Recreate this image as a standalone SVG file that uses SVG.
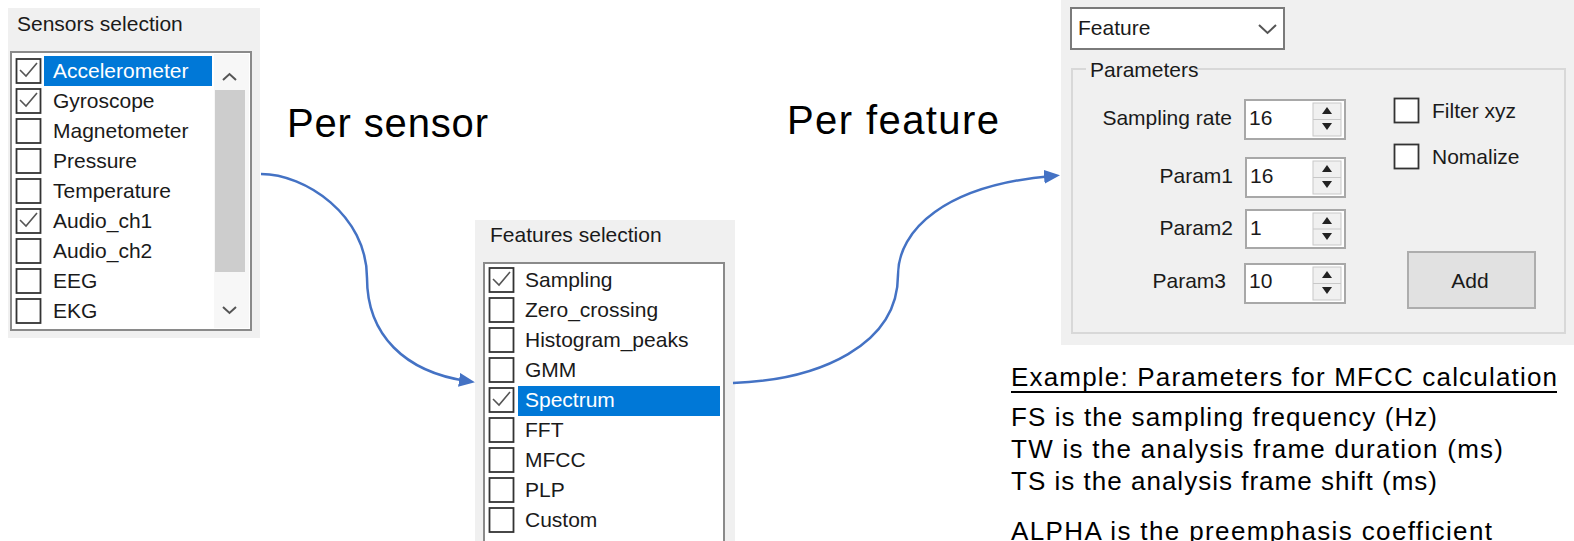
<svg xmlns="http://www.w3.org/2000/svg" width="1574" height="541" viewBox="0 0 1574 541">
<defs>
<style>
.ui{font-family:"Liberation Sans",Arial,sans-serif;font-size:21px;fill:#1a1a1a}
.sel{fill:#ffffff}
.big{font-family:"Liberation Sans",Arial,sans-serif;font-size:40px;fill:#000}
.note{font-family:"Liberation Sans",Arial,sans-serif;font-size:26px;fill:#000}
.panel{fill:#f0f0f0}
.list{fill:#fff;stroke:#8a8a8a;stroke-width:2}
.cb{fill:#fff;stroke:#333;stroke-width:1.8}
.chk{fill:none;stroke:#555;stroke-width:1.6}
.hl{fill:#0078d7}
.spin{fill:#fff;stroke:#a8a8a8;stroke-width:2}
.spbtn{fill:#f0f0f0;stroke:#c8c8c8;stroke-width:1}
.tri{fill:#222}
.conn{fill:none;stroke:#4472c4;stroke-width:2.5}
</style>
<marker id="ah" viewBox="0 0 16 14" refX="8" refY="7" markerWidth="16" markerHeight="14" orient="auto" markerUnits="userSpaceOnUse">
<path d="M0,0 L16,7 L0,14 z" fill="#4472c4"/>
</marker>
</defs>
<rect width="1574" height="541" fill="#fff"/>

<g id="sensors-panel">
<rect class="panel" x="8" y="8" width="252" height="330"/>
<text class="ui" x="17" y="31">Sensors selection</text>
<rect class="list" x="11" y="52" width="240" height="278"/>
<rect x="214" y="54" width="35" height="274" fill="#f7f7f7"/>
<rect x="215" y="90" width="30" height="182" fill="#cdcdcd"/>
<path d="M223,80 L229.5,74 L236,80" fill="none" stroke="#555" stroke-width="2"/>
<path d="M223,307 L229.5,313 L236,307" fill="none" stroke="#555" stroke-width="2"/>
<rect class="hl" x="44" y="56" width="168" height="30"/>
<rect class="cb" x="16.5" y="59" width="24" height="24"/>
<rect class="cb" x="16.5" y="89" width="24" height="24"/>
<rect class="cb" x="16.5" y="119" width="24" height="24"/>
<rect class="cb" x="16.5" y="149" width="24" height="24"/>
<rect class="cb" x="16.5" y="179" width="24" height="24"/>
<rect class="cb" x="16.5" y="209" width="24" height="24"/>
<rect class="cb" x="16.5" y="239" width="24" height="24"/>
<rect class="cb" x="16.5" y="269" width="24" height="24"/>
<rect class="cb" x="16.5" y="299" width="24" height="24"/>
<path class="chk" d="M20,70 L26,76 L37,63"/>
<path class="chk" d="M20,100 L26,106 L37,93"/>
<path class="chk" d="M20,220 L26,226 L37,213"/>
<text class="ui sel" x="53" y="78">Accelerometer</text>
<text class="ui" x="53" y="108">Gyroscope</text>
<text class="ui" x="53" y="138">Magnetometer</text>
<text class="ui" x="53" y="168">Pressure</text>
<text class="ui" x="53" y="198">Temperature</text>
<text class="ui" x="53" y="228">Audio_ch1</text>
<text class="ui" x="53" y="258">Audio_ch2</text>
<text class="ui" x="53" y="288">EEG</text>
<text class="ui" x="53" y="318">EKG</text>
</g>

<g id="features-panel">
<rect class="panel" x="475" y="220" width="260" height="321"/>
<text class="ui" x="490" y="242">Features selection</text>
<rect class="list" x="484" y="263" width="240" height="290"/>
<rect class="hl" x="518" y="386" width="202" height="30"/>
<rect class="cb" x="489.5" y="268" width="24" height="24"/>
<rect class="cb" x="489.5" y="298" width="24" height="24"/>
<rect class="cb" x="489.5" y="328" width="24" height="24"/>
<rect class="cb" x="489.5" y="358" width="24" height="24"/>
<rect class="cb" x="489.5" y="388" width="24" height="24"/>
<rect class="cb" x="489.5" y="418" width="24" height="24"/>
<rect class="cb" x="489.5" y="448" width="24" height="24"/>
<rect class="cb" x="489.5" y="478" width="24" height="24"/>
<rect class="cb" x="489.5" y="508" width="24" height="24"/>
<path class="chk" d="M493,279 L499,285 L510,272"/>
<path class="chk" d="M493,399 L499,405 L510,392"/>
<text class="ui" x="525" y="287">Sampling</text>
<text class="ui" x="525" y="317">Zero_crossing</text>
<text class="ui" x="525" y="347">Histogram_peaks</text>
<text class="ui" x="525" y="377">GMM</text>
<text class="ui sel" x="525" y="407">Spectrum</text>
<text class="ui" x="525" y="437">FFT</text>
<text class="ui" x="525" y="467">MFCC</text>
<text class="ui" x="525" y="497">PLP</text>
<text class="ui" x="525" y="527">Custom</text>
</g>

<g id="params-panel">
<rect class="panel" x="1061" y="0" width="513" height="345"/>
<rect x="1071" y="8" width="213" height="41" fill="#fff" stroke="#7a7a7a" stroke-width="2"/>
<text class="ui" x="1078" y="35">Feature</text>
<path d="M1259,25 L1267.5,33 L1276,25" fill="none" stroke="#555" stroke-width="2"/>
<rect x="1072" y="69" width="493" height="264" fill="none" stroke="#d8d8d8" stroke-width="2"/>
<rect x="1086" y="60" width="108" height="20" fill="#f0f0f0"/>
<text class="ui" x="1090" y="77">Parameters</text>

<text class="ui" x="1232" y="125" text-anchor="end">Sampling rate</text>
<rect class="spin" x="1245" y="100" width="100" height="39"/>
<rect class="spbtn" x="1313" y="103" width="28" height="33"/>
<line x1="1313" y1="119.5" x2="1341" y2="119.5" stroke="#c8c8c8"/>
<path class="tri" d="M1322,114 L1332,114 L1327,107 z"/>
<path class="tri" d="M1322,123 L1332,123 L1327,130 z"/>
<text class="ui" x="1249" y="125">16</text>

<text class="ui" x="1233" y="183" text-anchor="end">Param1</text>
<rect class="spin" x="1246" y="158" width="99" height="39"/>
<rect class="spbtn" x="1313" y="161" width="28" height="33"/>
<line x1="1313" y1="177.5" x2="1341" y2="177.5" stroke="#c8c8c8"/>
<path class="tri" d="M1322,172 L1332,172 L1327,165 z"/>
<path class="tri" d="M1322,181 L1332,181 L1327,188 z"/>
<text class="ui" x="1250" y="183">16</text>

<text class="ui" x="1233" y="235" text-anchor="end">Param2</text>
<rect class="spin" x="1246" y="210" width="99" height="38"/>
<rect class="spbtn" x="1313" y="213" width="28" height="32"/>
<line x1="1313" y1="229" x2="1341" y2="229" stroke="#c8c8c8"/>
<path class="tri" d="M1322,224 L1332,224 L1327,217 z"/>
<path class="tri" d="M1322,233 L1332,233 L1327,240 z"/>
<text class="ui" x="1250" y="235">1</text>

<text class="ui" x="1226" y="288" text-anchor="end">Param3</text>
<rect class="spin" x="1245" y="264" width="100" height="39"/>
<rect class="spbtn" x="1313" y="267" width="28" height="33"/>
<line x1="1313" y1="283.5" x2="1341" y2="283.5" stroke="#c8c8c8"/>
<path class="tri" d="M1322,278 L1332,278 L1327,271 z"/>
<path class="tri" d="M1322,287 L1332,287 L1327,294 z"/>
<text class="ui" x="1249" y="288">10</text>

<rect class="cb" x="1394.5" y="98.5" width="24" height="24"/>
<text class="ui" x="1432" y="118">Filter xyz</text>
<rect class="cb" x="1394.5" y="144.5" width="24" height="24"/>
<text class="ui" x="1432" y="164">Nomalize</text>

<rect x="1408" y="252" width="127" height="56" fill="#e1e1e1" stroke="#adadad" stroke-width="2"/>
<text class="ui" x="1470" y="288" text-anchor="middle">Add</text>
</g>

<g id="label-per-sensor">
<text class="big" x="287" y="137" textLength="201">Per sensor</text>
</g>
<g id="label-per-feature">
<text class="big" x="787" y="134" textLength="212">Per feature</text>
</g>

<g id="mfcc-note">
<text class="note" x="1011" y="386" textLength="546">Example: Parameters for MFCC calculation</text>
<line x1="1011" y1="392" x2="1557" y2="392" stroke="#000" stroke-width="2"/>
<text class="note" x="1011" y="426" textLength="426">FS is the sampling frequency (Hz)</text>
<text class="note" x="1011" y="458" textLength="492">TW is the analysis frame duration (ms)</text>
<text class="note" x="1011" y="490" textLength="426">TS is the analysis frame shift (ms)</text>
<text class="note" x="1011" y="540" textLength="481">ALPHA is the preemphasis coefficient</text>
</g>

<g id="connectors">
<path class="conn" marker-end="url(#ah)" d="M261,174 C305,174 367,215 367,278 C367,335 405,372 467,381"/>
<path class="conn" marker-end="url(#ah)" d="M733,383 C820,380 898,345 898,275 C898,230 945,185 1052,176"/>
</g>
</svg>
